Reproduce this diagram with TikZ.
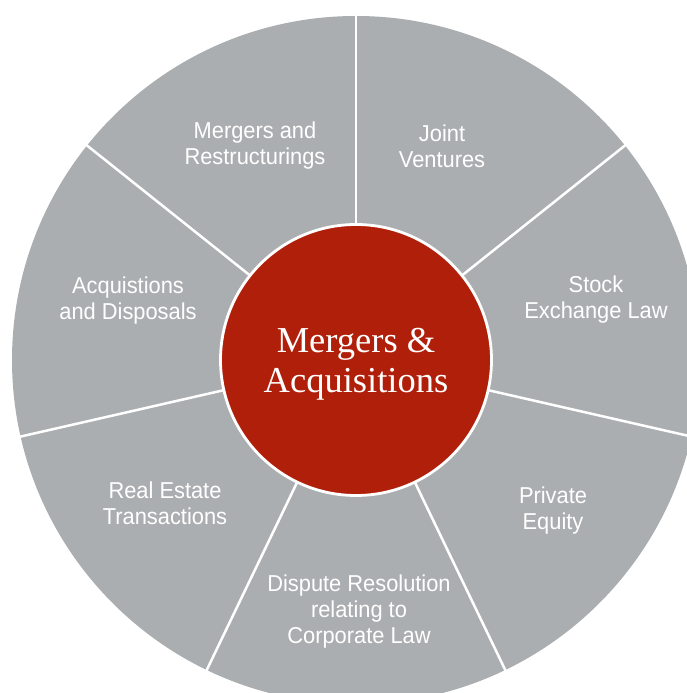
\documentclass[tikz,border=0pt]{standalone}
\usepackage{fontspec}
\setmainfont{Liberation Serif}
\setsansfont[FakeStretch=0.95]{Liberation Sans}
\usetikzlibrary{positioning, calc}
\definecolor{wheelgray}{HTML}{ABAEB0}
\definecolor{hubred}{HTML}{B01F0A}

\begin{document}
\begin{tikzpicture}[
    x=1pt, y=1pt,
    % global styles
    wheel/.style={fill=wheelgray}, % grey disc behind everything
    spoke/.style={draw=white, line width=2.5pt}, % white divider lines
    hub/.style={circle, fill=hubred, draw=white, line width=2.8pt, minimum size=271pt, inner sep=0pt},
    hub text/.style={font=\rmfamily\fontsize{36.5}{40}\selectfont, text=white, align=center},
    segment text/.style={font=\sffamily\fontsize{23}{26}\selectfont, text=white, align=center}
]
    \useasboundingbox (0,0) rectangle (687,693);
    \clip (0,0) rectangle (687,693);

    % --- 1. grey wheel (runs off the right and bottom edge) ---
    \coordinate (centre) at (356,333);
    \fill[wheel] (centre) circle (344);

    % --- 2. spokes between the seven segments ---
    \foreach \a in {90, 38.57, -12.86, -64.29, -115.71, -167.14, 141.43}
        \draw[spoke] (centre) -- ++(\a:360);

    % --- 3. red hub in the middle ---
    \node[hub] (hub) at (centre) {};
    \node[hub text] (hubtitle) at ($(hub.center)+(0,-4)$) {Mergers \&\\Acquisitions};

    % --- 4. segment labels, clockwise from the top ---
    \node[segment text] (jointventures) at (442,547) {Joint\\Ventures};
    \node[segment text] (stockexchange) at (596,393) {Stock\\Exchange Law};
    \node[segment text] (privateequity) at (553,182) {Private\\Equity};
    \node[segment text] (dispute) at (359,81) {Dispute Resolution\\relating to\\Corporate Law};
    \node[segment text] (realestate) at (165,190) {Real Estate\\Transactions};
    \node[segment text] (acquisitions) at (128,392) {Acquistions\\and Disposals};
    \node[segment text] (restructurings) at (255,547) {Mergers and\\Restructurings};

\end{tikzpicture}
\end{document}
